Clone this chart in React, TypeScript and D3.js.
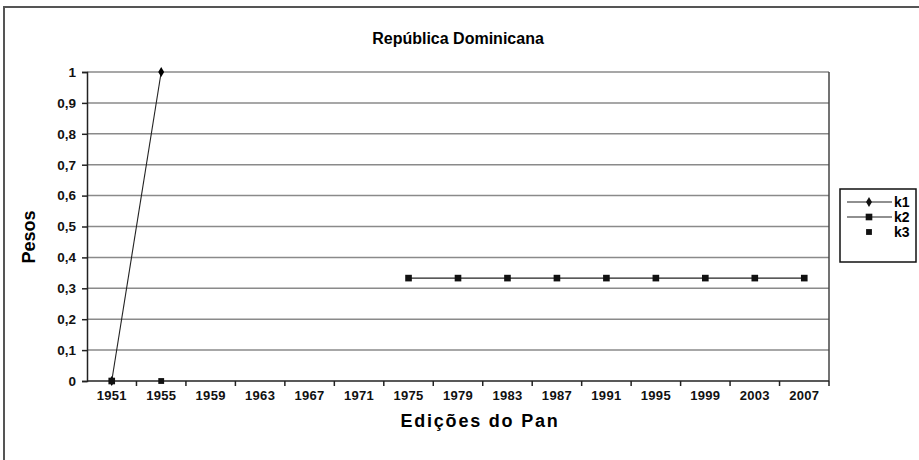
import React, {useEffect, useRef} from 'react';
import * as d3 from 'd3';

// categories (Pan American Games editions)
const years: string[] = ['1951', '1955', '1959', '1963', '1967', '1971', '1975', '1979', '1983', '1987', '1991', '1995', '1999', '2003', '2007'];

// series values, null = no point
const k1: (number | null)[] = [0, 1, null, null, null, null, null, null, null, null, null, null, null, null, null];
const k2: (number | null)[] = [0, null, null, null, null, null, 0.333, 0.333, 0.333, 0.333, 0.333, 0.333, 0.333, 0.333, 0.333];
const k3: (number | null)[] = [null, 0, null, null, null, null, null, null, null, null, null, null, null, null, null];

const yTicks: number[] = [0, 0.1, 0.2, 0.3, 0.4, 0.5, 0.6, 0.7, 0.8, 0.9, 1];

const App = () => {
  const ref = useRef<SVGSVGElement | null>(null);

  useEffect(() => {
    drawChart();
    return () => {
      d3.select(ref.current).selectAll('*').remove();
    };
  }, []);

  const drawChart = () => {
    const svg = d3.select(ref.current);
    const font = '"Liberation Sans", Arial, sans-serif';

    // outer chart border
    svg.append('rect')
      .attr('x', 4).attr('y', 7)
      .attr('width', 930).attr('height', 470)
      .attr('fill', 'white')
      .attr('stroke', '#555').attr('stroke-width', 2);

    const plot = {left: 87, right: 829, top: 72, bottom: 381};

    const x = d3.scaleBand<string>().domain(years).range([plot.left, plot.right]).padding(0);
    const y = d3.scaleLinear().domain([0, 1]).range([plot.bottom, plot.top]);
    const cx = (i: number) => (x(years[i]) as number) + x.bandwidth() / 2;

    // gridlines
    svg.append('g').selectAll('line')
      .data(yTicks.filter(t => t > 0))
      .enter().append('line')
      .attr('x1', plot.left).attr('x2', plot.right)
      .attr('y1', d => y(d)).attr('y2', d => y(d))
      .attr('stroke', '#8a8a8a').attr('stroke-width', 1.5);

    // right border of plot area
    svg.append('line')
      .attr('x1', plot.right).attr('x2', plot.right)
      .attr('y1', plot.top).attr('y2', plot.bottom)
      .attr('stroke', '#444').attr('stroke-width', 1.5);

    // y axis
    const yAxis = svg.append('g')
      .attr('transform', `translate(${plot.left},0)`)
      .call(d3.axisLeft(y).tickValues(yTicks).tickSize(5).tickPadding(6)
        .tickFormat(d => d3.format('.1~f')(d as number).replace('.', ',')));
    yAxis.select('.domain').attr('stroke', '#222').attr('stroke-width', 1.5);
    yAxis.selectAll('.tick line').attr('stroke', '#222').attr('stroke-width', 1.5);
    yAxis.selectAll('text')
      .attr('font-family', font).attr('font-size', 13.5).attr('font-weight', 'bold')
      .attr('fill', '#111');

    // x axis: ticks sit between categories
    const xAxis = svg.append('g')
      .attr('transform', `translate(0,${plot.bottom})`);
    xAxis.append('line')
      .attr('x1', plot.left).attr('x2', plot.right)
      .attr('stroke', '#222').attr('stroke-width', 1.5);
    xAxis.selectAll('.xtick')
      .data(years)
      .enter().append('line')
      .attr('x1', d => (x(d) as number) + x.bandwidth()).attr('x2', d => (x(d) as number) + x.bandwidth())
      .attr('y1', 0).attr('y2', 5)
      .attr('stroke', '#222').attr('stroke-width', 1.5);
    xAxis.selectAll('.xlabel')
      .data(years)
      .enter().append('text')
      .attr('x', d => (x(d) as number) + x.bandwidth() / 2)
      .attr('y', 19)
      .attr('text-anchor', 'middle')
      .attr('font-family', font).attr('font-size', 13).attr('font-weight', 'bold')
      .attr('letter-spacing', 0.3)
      .attr('fill', '#111')
      .text(d => d);

    // series
    const line = d3.line<number | null>()
      .defined(d => d !== null)
      .x((d, i) => cx(i))
      .y(d => y(d as number));

    svg.append('path').datum(k1).attr('d', line)
      .attr('fill', 'none').attr('stroke', '#222').attr('stroke-width', 1.1);
    svg.append('path').datum(k2).attr('d', line)
      .attr('fill', 'none').attr('stroke', '#222').attr('stroke-width', 1.1);

    const diamond = d3.symbol().type(d3.symbolDiamond).size(30);
    const square = d3.symbol().type(d3.symbolSquare).size(44);
    const small = d3.symbol().type(d3.symbolSquare).size(34);

    const pts = (vals: (number | null)[]) =>
      vals.map((v, i) => ({v, i})).filter(p => p.v !== null);

    svg.append('g').selectAll('path').data(pts(k1)).enter().append('path')
      .attr('d', diamond).attr('fill', '#000')
      .attr('transform', p => `translate(${cx(p.i)},${y(p.v as number)})`);
    svg.append('g').selectAll('path').data(pts(k2)).enter().append('path')
      .attr('d', square).attr('fill', '#111')
      .attr('transform', p => `translate(${cx(p.i)},${y(p.v as number)})`);
    svg.append('g').selectAll('path').data(pts(k3)).enter().append('path')
      .attr('d', small).attr('fill', '#111')
      .attr('transform', p => `translate(${cx(p.i)},${y(p.v as number)})`);

    // titles
    svg.append('text')
      .attr('x', 458).attr('y', 44)
      .attr('text-anchor', 'middle')
      .attr('font-family', font).attr('font-size', 16).attr('font-weight', 'bold')
      .text('República Dominicana');

    svg.append('text')
      .attr('x', 480).attr('y', 427)
      .attr('text-anchor', 'middle')
      .attr('font-family', font).attr('font-size', 18).attr('font-weight', 'bold')
      .attr('letter-spacing', 1.8)
      .text('Edições do Pan');

    svg.append('text')
      .attr('transform', 'translate(35,237) rotate(-90)')
      .attr('text-anchor', 'middle')
      .attr('font-family', font).attr('font-size', 18).attr('font-weight', 'bold')
      .text('Pesos');

    // legend
    const legend = svg.append('g');
    legend.append('rect')
      .attr('x', 840).attr('y', 189).attr('width', 76).attr('height', 73)
      .attr('fill', 'white').attr('stroke', '#111').attr('stroke-width', 1.5);

    const entries = [
      {name: 'k1', sym: diamond, line: true},
      {name: 'k2', sym: square, line: true},
      {name: 'k3', sym: small, line: false},
    ];
    const ly = d3.scalePoint<string>().domain(entries.map(e => e.name)).range([202, 232]);

    const item = legend.selectAll('.item')
      .data(entries)
      .enter().append('g')
      .attr('transform', e => `translate(0,${ly(e.name)})`);
    item.filter(e => e.line).append('line')
      .attr('x1', 847).attr('x2', 892)
      .attr('stroke', '#222').attr('stroke-width', 1.1);
    item.append('path')
      .attr('d', e => e.sym())
      .attr('transform', 'translate(869,0)')
      .attr('fill', '#111');
    item.append('text')
      .attr('x', 894).attr('y', 5)
      .attr('font-family', font).attr('font-size', 14).attr('font-weight', 'bold')
      .text(e => e.name);
  };

  return (
    <svg ref={ref} width={919} height={460}
      style={{position: 'absolute', left: 0, top: 0, background: 'white'}} />
  );
};

export default App;
